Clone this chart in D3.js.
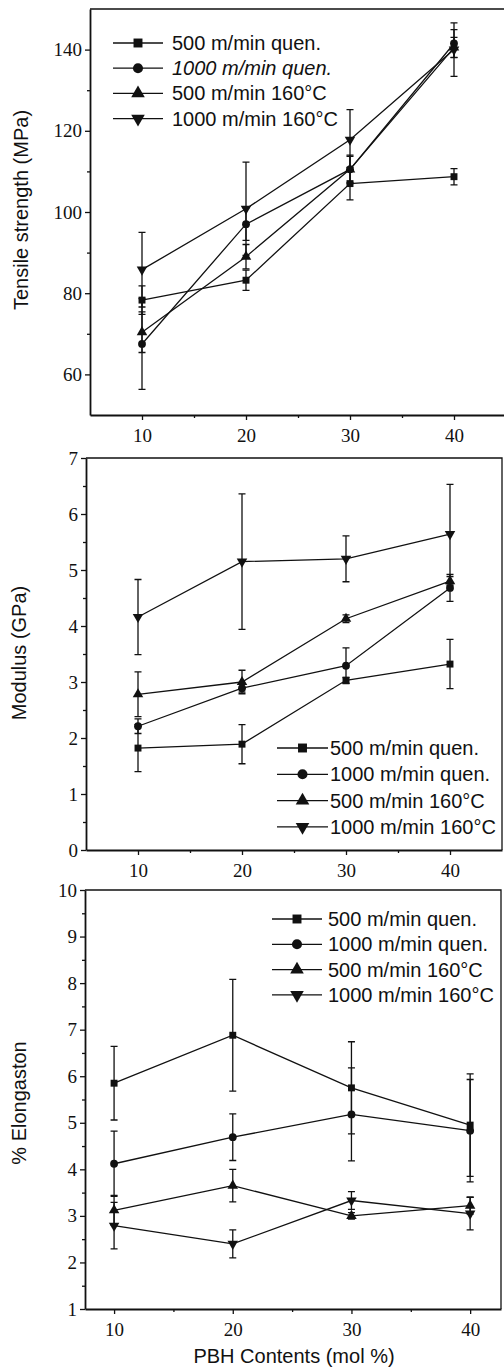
<!DOCTYPE html>
<html lang="en">
<head>
  <meta charset="UTF-8" />
  <title>PBH fibre properties</title>
  <script src="https://cdn.jsdelivr.net/npm/d3@7"></script>
  <style>
    body { margin: 0; background: #fff; }
    svg { display: block; }
    .lab { font-family: "Liberation Sans", Arial, sans-serif; font-size: 20px; fill: #111; }
  </style>
</head>
<body>
<script>
// PBH content (mol %)
const pbh = [10, 20, 30, 40];
const seriesNames = ["500 m/min quen.", "1000 m/min quen.", "500 m/min 160°C", "1000 m/min 160°C"];
const symbolTypes = ["square", "circle", "triangle", "triangleDown"];

// tensile strength (MPa) and error
const tsSquare = [78.3, 83.2, 107.0, 108.7], tsSquareErr = [3.5, 2.5, 4.0, 2.0];
const tsCircle = [67.5, 97.0, 110.5, 141.5], tsCircleErr = [11.2, 4.0, 3.5, 3.4];
const tsUp     = [70.4, 89.0, 110.5, 140.5], tsUpErr     = [5.0, 3.0, 3.2, 2.5];
const tsDown   = [85.8, 100.8, 117.8, 140.0], tsDownErr  = [9.2, 11.5, 7.4, 6.6];

// modulus (GPa) and error
const mSquare = [1.82, 1.89, 3.03, 3.32], mSquareErr = [0.42, 0.35, 0.05, 0.44];
const mCircle = [2.21, 2.89, 3.29, 4.68], mCircleErr = [0.13, 0.07, 0.32, 0.24];
const mUp     = [2.78, 3.00, 4.13, 4.80], mUpErr     = [0.40, 0.21, 0.07, 0.08];
const mDown   = [4.16, 5.15, 5.20, 5.64], mDownErr   = [0.67, 1.21, 0.41, 0.89];

// elongation (%) and error
const eSquare = [5.85, 6.88, 5.75, 4.95], eSquareErr = [0.79, 1.20, 0.99, 1.10];
const eCircle = [4.12, 4.69, 5.18, 4.83], eCircleErr = [0.70, 0.50, 1.00, 1.10];
const eUp     = [3.12, 3.65, 3.00, 3.22], eUpErr     = [0.32, 0.35, 0.07, 0.18];
const eDown   = [2.79, 2.40, 3.33, 3.05], eDownErr   = [0.50, 0.30, 0.19, 0.35];

const panels = [
  { title: "Tensile strength (MPa)", xd: [5, 45], xr: [90, 506], yd: [50, 150], yr: [415, 9],
    yTicks: [60, 80, 100, 120, 140], yMinor: [70, 90, 110, 130],
    vals: [tsSquare, tsCircle, tsUp, tsDown], errs: [tsSquareErr, tsCircleErr, tsUpErr, tsDownErr],
    titleX: 28, titleY: 210, leg: { x0: 113, x1: 163, tx: 172, y0: 43, dy: 25.2, italic: 1 } },
  { title: "Modulus (GPa)", xd: [5, 45], xr: [86, 502], yd: [0, 7], yr: [850, 458],
    yTicks: d3.range(0, 8), yMinor: d3.range(0.5, 7, 1),
    vals: [mSquare, mCircle, mUp, mDown], errs: [mSquareErr, mCircleErr, mUpErr, mDownErr],
    titleX: 26, titleY: 653, leg: { x0: 277, x1: 328, tx: 330, y0: 748, dy: 26.3, italic: -1 } },
  { title: "% Elongaston", xd: [7.55, 42.6], xr: [85, 501], yd: [1, 10], yr: [1309, 890],
    yTicks: d3.range(1, 11), yMinor: d3.range(1.5, 10, 1),
    vals: [eSquare, eCircle, eUp, eDown], errs: [eSquareErr, eCircleErr, eUpErr, eDownErr],
    titleX: 26, titleY: 1103, leg: { x0: 272, x1: 322, tx: 328, y0: 919, dy: 25.3, italic: -1 } }
];

const symMap = {
  square: d3.symbolSquare, circle: d3.symbolCircle,
  triangle: d3.symbolTriangle, triangleDown: d3.symbolTriangle
};
function marker(sel, type, size) {
  sel.append("path")
    .attr("d", d3.symbol(symMap[type], size)())
    .attr("transform", type === "triangleDown" ? "rotate(180)" : null)
    .attr("fill", "#111");
}

const svg = d3.select("body").append("svg")
  .attr("width", 504).attr("height", 1372);

panels.forEach(p => {
  const x = d3.scaleLinear().domain(p.xd).range(p.xr);
  const y = d3.scaleLinear().domain(p.yd).range(p.yr);
  const g = svg.append("g");

  // frame (top + right)
  g.append("path")
    .attr("d", `M${p.xr[0]},${p.yr[1]}H${p.xr[1]}V${p.yr[0]}`)
    .attr("fill", "none").attr("stroke", "#111").attr("stroke-width", 1.3);

  // axes
  const xa = g.append("g").attr("transform", `translate(0,${p.yr[0]})`)
    .call(d3.axisBottom(x).tickValues(pbh).tickSize(5).tickSizeOuter(0).tickPadding(6));
  g.append("g").attr("transform", `translate(0,${p.yr[0]})`)
    .call(d3.axisBottom(x).tickValues([15, 25, 35]).tickSize(3).tickFormat(""))
    .select(".domain").remove();
  g.append("g").attr("transform", `translate(${p.xr[0]},0)`)
    .call(d3.axisLeft(y).tickValues(p.yTicks).tickFormat(d3.format("d"))
      .tickSize(5).tickSizeOuter(0).tickPadding(3));
  g.append("g").attr("transform", `translate(${p.xr[0]},0)`)
    .call(d3.axisLeft(y).tickValues(p.yMinor).tickSize(3).tickFormat(""))
    .select(".domain").remove();
  g.selectAll(".domain").attr("stroke", "#111").attr("stroke-width", 1.8);
  g.selectAll(".tick line").attr("stroke", "#111").attr("stroke-width", 1.3);
  g.selectAll(".tick text")
    .attr("font-family", "'Liberation Serif', 'Times New Roman', serif")
    .attr("font-size", 19).attr("fill", "#111");
  xa.selectAll(".tick text").attr("dy", "0.85em");

  // axis title
  g.append("text").attr("class", "lab")
    .attr("transform", `translate(${p.titleX},${p.titleY}) rotate(-90)`)
    .attr("text-anchor", "middle").text(p.title);

  const line = d3.line().x((d, i) => x(pbh[i])).y(d => y(d));

  p.vals.forEach((vals, s) => {
    const errs = p.errs[s];
    g.append("path").attr("d", line(vals))
      .attr("fill", "none").attr("stroke", "#111").attr("stroke-width", 1.3);

    pbh.forEach((xv, i) => {
      const cx = x(xv), lo = y(vals[i] - errs[i]), hi = y(vals[i] + errs[i]);
      g.append("path")
        .attr("d", `M${cx},${lo}V${hi}M${cx - 3.5},${lo}h7M${cx - 3.5},${hi}h7`)
        .attr("stroke", "#111").attr("stroke-width", 1.3).attr("fill", "none");
      const m = g.append("g").attr("transform", `translate(${cx},${y(vals[i])})`);
      marker(m, symbolTypes[s], 48);
    });
  });

  // legend
  const L = p.leg;
  seriesNames.forEach((name, s) => {
    const ly = L.y0 + s * L.dy;
    g.append("line").attr("x1", L.x0).attr("x2", L.x1).attr("y1", ly).attr("y2", ly)
      .attr("stroke", "#111").attr("stroke-width", 1.3);
    const m = g.append("g").attr("transform", `translate(${(L.x0 + L.x1) / 2},${ly})`);
    marker(m, symbolTypes[s], 80);
    g.append("text").attr("class", "lab").attr("x", L.tx).attr("y", ly + 7)
      .attr("font-style", s === L.italic ? "italic" : null).text(name);
  });
});

svg.append("text").attr("class", "lab")
  .attr("x", 294).attr("y", 1363).attr("text-anchor", "middle")
  .text("PBH Contents (mol %)");
</script>
</body>
</html>
